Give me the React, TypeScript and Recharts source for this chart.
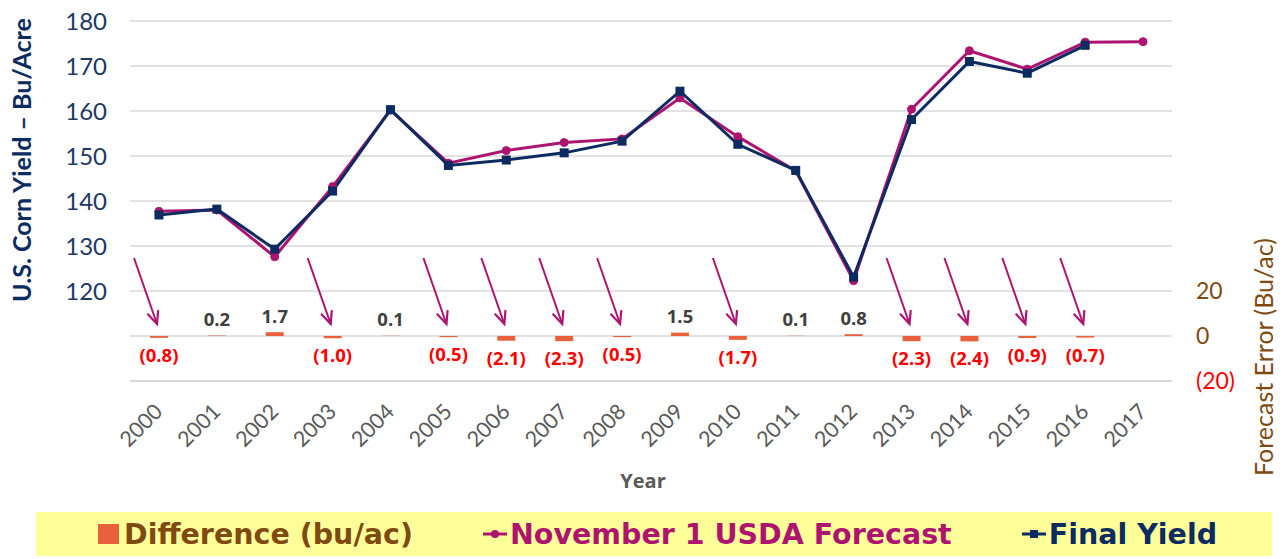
import React from 'react';
import { ComposedChart, Bar, Line, XAxis, YAxis, CartesianGrid, Legend, LabelList, Label } from 'recharts';

const years = ['2000', '2001', '2002', '2003', '2004', '2005', '2006', '2007', '2008', '2009', '2010', '2011', '2012', '2013', '2014', '2015', '2016', '2017'];
const novemberForecast = [137.7, 138.0, 127.6, 143.2, 160.2, 148.4, 151.2, 153.0, 153.8, 162.9, 154.3, 146.7, 122.3, 160.4, 173.4, 169.3, 175.3, 175.4];
const finalYield: (number | null)[] = [136.9, 138.2, 129.3, 142.2, 160.3, 147.9, 149.1, 150.7, 153.3, 164.4, 152.6, 146.8, 123.1, 158.1, 171.0, 168.4, 174.6, null];
const difference: (number | null)[] = [-0.8, 0.2, 1.7, -1.0, 0.1, -0.5, -2.1, -2.3, -0.5, 1.5, -1.7, 0.1, 0.8, -2.3, -2.4, -0.9, -0.7, null];
const leftTicks = [100, 110, 120, 130, 140, 150, 160, 170, 180];
const rightTicks = [-20, 0, 20];
const legendOrder = ['diff', 'forecast', 'final'];

const data = years.map((y, i) => ({
  year: y,
  diff: difference[i],
  forecast: novemberForecast[i],
  final: finalYield[i],
}));

const NAVY = '#0B2B61';
const MAGENTA = '#AD1470';
const ORANGE = '#E8603C';
const BROWN = '#7F4A12';
const GRID = '#D9D9D9';
const NUM_FONT = 'Lato, "DejaVu Sans", sans-serif';

const fmtDiff = (v: number) => (v < 0 ? `(${Math.abs(v).toFixed(1)})` : v.toFixed(1));

const DiffLabel = (props: any) => {
  const { x, y, width, height, value } = props;
  if (value === null || value === undefined) return null;
  const cx = Number(x) + Number(width) / 2;
  const top = Math.min(Number(y), Number(y) + Number(height));
  const bottom = Math.max(Number(y), Number(y) + Number(height));
  const v = Number(value);
  if (v >= 0) {
    return (
      <text x={cx} y={top - 9.5} textAnchor="middle" fill="#404040" fontSize={18.5} fontWeight={700} fontFamily='"Open Sans", sans-serif'>
        {fmtDiff(v)}
      </text>
    );
  }
  const x1 = cx - 25, y1 = top - 78;
  const x2 = cx - 2, y2 = top - 12;
  const dx = x2 - x1, dy = y2 - y1;
  const len = Math.sqrt(dx * dx + dy * dy);
  const ux = dx / len, uy = dy / len;
  const hl = 14, ang = 0.42;
  const rot = (a: number) => [ux * Math.cos(a) - uy * Math.sin(a), ux * Math.sin(a) + uy * Math.cos(a)];
  const [ax, ay] = rot(ang);
  const [bx, by] = rot(-ang);
  return (
    <g>
      <line x1={x1} y1={y1} x2={x2} y2={y2} stroke={MAGENTA} strokeWidth={2} />
      <polyline
        points={`${x2 - hl * ax},${y2 - hl * ay} ${x2},${y2} ${x2 - hl * bx},${y2 - hl * by}`}
        fill="none"
        stroke={MAGENTA}
        strokeWidth={2.2}
      />
      <text x={cx} y={bottom + 24} textAnchor="middle" fill="#FF0000" fontSize={18.5} fontWeight={700} fontFamily='"Open Sans", sans-serif'>
        {fmtDiff(v)}
      </text>
    </g>
  );
};

const XTick = (props: any) => {
  const { x, y, payload } = props;
  return (
    <g transform={`translate(${Number(x) + 5},${Number(y) + 24}) rotate(-45)`}>
      <text x={0} y={0} textAnchor="end" fill="#595959" fontSize={21.5} fontFamily={NUM_FONT}>
        {payload.value}
      </text>
    </g>
  );
};

const RightTick = (props: any) => {
  const { x, y, payload } = props;
  const v = Number(payload.value);
  return (
    <text x={x} y={y} dy={8} textAnchor="start" fill={v < 0 ? '#FF0000' : BROWN} fontSize={23} fontFamily={NUM_FONT}>
      {v < 0 ? `(${Math.abs(v)})` : String(v)}
    </text>
  );
};

const LegendContent = (props: any) => {
  const payload: any[] = [...(props.payload || [])].sort(
    (a: any, b: any) => legendOrder.indexOf(a.dataKey) - legendOrder.indexOf(b.dataKey)
  );
  const colorFor = (k: string) => (k === 'diff' ? BROWN : k === 'forecast' ? MAGENTA : NAVY);
  const icon = (k: string) => {
    if (k === 'diff') {
      return <svg width={22} height={22} style={{ marginRight: 4 }}><rect x={0} y={1} width={21} height={20} fill={ORANGE} /></svg>;
    }
    if (k === 'forecast') {
      return (
        <svg width={24} height={12} style={{ marginRight: 3 }}>
          <line x1={0} y1={6} x2={24} y2={6} stroke={MAGENTA} strokeWidth={3} />
          <circle cx={12} cy={6} r={4} fill={MAGENTA} />
        </svg>
      );
    }
    return (
      <svg width={24} height={12} style={{ marginRight: 3 }}>
        <line x1={0} y1={6} x2={24} y2={6} stroke={NAVY} strokeWidth={3} />
        <rect x={8} y={2} width={8} height={8} fill={NAVY} />
      </svg>
    );
  };
  return (
    <div
      style={{
        background: '#FFFF9A',
        height: 44,
        display: 'flex',
        alignItems: 'center',
        paddingLeft: 62,
        boxSizing: 'border-box',
        fontFamily: '"DejaVu Sans", sans-serif',
        fontWeight: 700,
        fontSize: 28.5,
      }}
    >
      {payload.map((p: any, i: number) => (
        <div key={p.dataKey} style={{ display: 'flex', alignItems: 'center', marginRight: i < payload.length - 1 ? 70 : 0, color: colorFor(p.dataKey) }}>
          {icon(p.dataKey)}
          <span>{p.value}</span>
        </div>
      ))}
    </div>
  );
};

export default function App() {
  return (
    <div style={{ position: 'absolute', left: 0, top: 0, width: 1286, height: 559, background: '#FFFFFF' }}>
      <ComposedChart width={1286} height={559} data={data} margin={{ top: 21, right: 0, bottom: 3, left: 0 }}>
        <CartesianGrid yAxisId="left" vertical={false} stroke={GRID} strokeWidth={1.5} />
        <XAxis
          dataKey="year"
          height={131}
          tick={<XTick />}
          tickLine={false}
          axisLine={{ stroke: GRID, strokeWidth: 2 }}
          interval={0}
        >
          <Label
            content={() => (
              <text x={643} y={488} textAnchor="middle" fill="#595959" fontSize={20} fontWeight={700} fontFamily='"Open Sans", sans-serif'>
                Year
              </text>
            )}
          />
        </XAxis>
        <YAxis
          yAxisId="left"
          orientation="left"
          width={130}
          domain={[100, 180]}
          ticks={leftTicks}
          tickFormatter={(v: number) => (v < 120 ? '' : String(v))}
          tick={{ fill: '#203864', fontSize: 24, fontFamily: NUM_FONT }}
          tickSize={6}
          tickMargin={17}
          tickLine={false}
          axisLine={false}
          allowDataOverflow
        >
          <Label
            content={() => (
              <text
                x={0}
                y={0}
                transform="translate(31,160) rotate(-90)"
                textAnchor="middle"
                fill={NAVY}
                fontSize={25}
                fontFamily={NUM_FONT}
                fontWeight={700}
              >
                U.S. Corn Yield – Bu/Acre
              </text>
            )}
          />
        </YAxis>
        <YAxis
          yAxisId="right"
          orientation="right"
          width={114}
          domain={[-20, 140]}
          ticks={rightTicks}
          tick={<RightTick />}
          tickSize={6}
          tickMargin={18}
          tickLine={false}
          axisLine={false}
          allowDataOverflow
        >
          <Label
            content={() => (
              <text
                x={0}
                y={0}
                transform="translate(1273,357) rotate(-90)"
                textAnchor="middle"
                fill={BROWN}
                fontSize={25}
                fontFamily={NUM_FONT}
              >
                Forecast Error (Bu/ac)
              </text>
            )}
          />
        </YAxis>
        <Legend
          verticalAlign="bottom"
          align="left"
          content={<LegendContent />}
          wrapperStyle={{ left: 36, width: 1236, bottom: 3, height: 44 }}
        />
        <Bar yAxisId="right" dataKey="diff" name="Difference (bu/ac)" fill={ORANGE} barSize={18} isAnimationActive={false}>
          <LabelList dataKey="diff" content={<DiffLabel />} />
        </Bar>
        <Line
          yAxisId="left"
          dataKey="forecast"
          name="November 1 USDA Forecast"
          stroke={MAGENTA}
          strokeWidth={3}
          dot={{ r: 4, fill: MAGENTA, stroke: MAGENTA, strokeWidth: 1 }}
          isAnimationActive={false}
        />
        <Line
          yAxisId="left"
          dataKey="final"
          name="Final Yield"
          stroke={NAVY}
          strokeWidth={3}
          dot={(p: any) => (p.value === null || p.value === undefined ? <g key={p.index} /> : <rect key={p.index} x={p.cx - 4.5} y={p.cy - 4.5} width={9} height={9} fill={NAVY} />)}
          isAnimationActive={false}
        />
      </ComposedChart>
    </div>
  );
}
